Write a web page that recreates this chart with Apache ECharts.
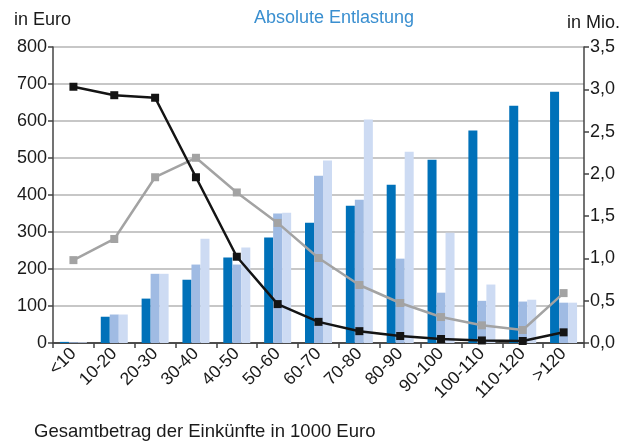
<!DOCTYPE html>
<html>
<head>
<meta charset="utf-8">
<style>
  html, body { margin: 0; padding: 0; background: #fff; }
  #chart { width: 631px; height: 443px; }
</style>
<script src="https://cdn.jsdelivr.net/npm/echarts@6/dist/echarts.min.js"></script>
</head>
<body>
<div id="chart"></div>
<script>
// Income brackets (1000 Euro)
const categories = ['<10', '10-20', '20-30', '30-40', '40-50', '50-60', '60-70', '70-80', '80-90', '90-100', '100-110', '110-120', '>120'];

// Bars: relief in Euro (left axis)
const barsDark   = [3, 71, 120, 171, 231, 285, 325, 371, 428, 495, 574, 641, 679];
const barsMedium = [2, 77, 187, 212, 212, 350, 452, 387, 228, 136, 114, 112, 109];
const barsLight  = [2, 77, 187, 282, 258, 352, 493, 604, 517, 298, 158, 117, 109];

// Lines: counts in millions (right axis)
const lineBlack = [3.03, 2.93, 2.90, 1.96, 1.02, 0.46, 0.25, 0.14, 0.083, 0.047, 0.03, 0.024, 0.126];
const lineGray  = [0.98, 1.23, 1.96, 2.19, 1.78, 1.42, 1.005, 0.686, 0.473, 0.307, 0.209, 0.154, 0.59];

// Axis tick settings
const leftMax = 800, leftStep = 100;
const rightMax = 3.5, rightStep = 0.5;

const FONT = 'Liberation Sans, Arial, Helvetica, sans-serif';
const axisColor = '#444';
const textColor = '#1a1a1a';

const chart = echarts.init(document.getElementById('chart'));

const bar = (name, data, color) => ({
  name, type: 'bar', data, yAxisIndex: 0,
  barWidth: 9, barGap: '0%',
  itemStyle: { color },
  z: 2
});

const line = (name, data, color) => ({
  name, type: 'line', data, yAxisIndex: 1,
  symbol: 'rect', symbolSize: 8,
  lineStyle: { color, width: 2.5 },
  itemStyle: { color },
  z: 5
});

const plainText = (size, color) => ({ color: color || textColor, fontSize: size, fontWeight: 'normal', fontFamily: FONT });

chart.setOption({
  animation: false,
  backgroundColor: '#fff',
  textStyle: { fontFamily: FONT },
  title: [
    { text: 'Absolute Entlastung', left: 249, top: 4, textStyle: plainText(18, '#3a8fd0') },
    { text: 'in Euro', left: 9, top: 6, textStyle: plainText(18) },
    { text: 'in Mio.', right: 6, top: 9, textStyle: plainText(18) },
    { text: 'Gesamtbetrag der Einkünfte in 1000 Euro', left: 29, top: 417, textStyle: plainText(18.5) }
  ],
  grid: { left: 53, right: 47, top: 47, bottom: 100, containLabel: false },
  xAxis: [
    {
      type: 'category', data: categories, boundaryGap: true,
      axisLine: { lineStyle: { color: axisColor, width: 1.5 } },
      axisTick: { show: true, alignWithLabel: false, length: 5, lineStyle: { color: axisColor, width: 1.5 } },
      axisLabel: { rotate: 45, color: textColor, fontSize: 17.5, margin: 8, interval: 0, fontFamily: FONT },
      splitLine: { show: false }
    },
    {
      type: 'category', data: categories, position: 'top',
      axisLine: { show: true, lineStyle: { color: axisColor, width: 1.5 } },
      axisTick: { show: false }, axisLabel: { show: false }, splitLine: { show: false }
    }
  ],
  yAxis: [
    {
      type: 'value', min: 0, max: leftMax, interval: leftStep, position: 'left',
      axisLine: { show: true, lineStyle: { color: axisColor, width: 1.5 } },
      axisTick: { show: true, length: 5, lineStyle: { color: axisColor, width: 1.5 } },
      axisLabel: { color: textColor, fontSize: 18, margin: 6, fontFamily: FONT },
      splitLine: { show: true, lineStyle: { color: '#b4b4b4', width: 1.5 } }
    },
    {
      type: 'value', min: 0, max: rightMax, interval: rightStep, position: 'right',
      axisLine: { show: true, lineStyle: { color: axisColor, width: 1.5 } },
      axisTick: { show: true, length: 5, lineStyle: { color: axisColor, width: 1.5 } },
      axisLabel: { color: textColor, fontSize: 18, margin: 6, fontFamily: FONT,
        formatter: v => v.toFixed(1).replace('.', ',') },
      splitLine: { show: false }
    }
  ],
  series: [
    bar('Entlastung A', barsDark, '#0071b9'),
    bar('Entlastung B', barsMedium, '#a0bbe3'),
    bar('Entlastung C', barsLight, '#cddbf3'),
    line('Anzahl A', lineGray, '#a3a3a3'),
    line('Anzahl B', lineBlack, '#141414')
  ]
});
</script>
</body>
</html>
